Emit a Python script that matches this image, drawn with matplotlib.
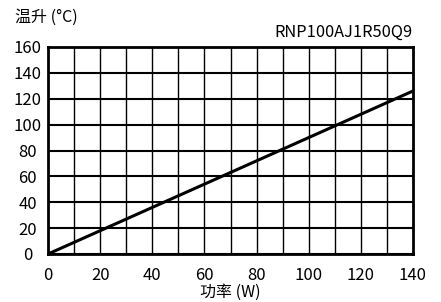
import matplotlib

matplotlib.use("Agg")
import matplotlib.pyplot as plt
import numpy as np

plt.rcParams["font.family"] = ["Noto Sans CJK SC", "DejaVu Sans"]

# data
power_w = [0, 140]
temp_rise_c = [0, 126]

x_ticks = [0, 20, 40, 60, 80, 100, 120, 140]
y_ticks = [0, 20, 40, 60, 80, 100, 120, 140, 160]
part_no = "RNP100AJ1R50Q9"

fig = plt.figure(figsize=(4.41, 3.02), dpi=100)
ax = fig.add_axes([48 / 441, 1 - 254 / 302, (413 - 48) / 441, (254 - 47) / 302])

ax.set_xlim(0, 140)
ax.set_ylim(0, 160)
ax.set_xticks(x_ticks)
ax.set_yticks(y_ticks)
# vertical grid every 10 W, horizontal every 20 °C
for xv in np.arange(10, 140, 10):
    ax.axvline(xv, color="black", lw=1.0, zorder=1)
ax.grid(which="major", axis="y", color="black", lw=1.5, zorder=1)
ax.tick_params(axis="both", length=0, labelsize=12)
ax.tick_params(axis="x", pad=9)
ax.tick_params(axis="y", pad=14.5)
for lbl in ax.get_yticklabels():
    lbl.set_horizontalalignment("center")
for s in ax.spines.values():
    s.set_linewidth(2.0)
    s.set_zorder(3)
ax.set_axisbelow(True)

ax.plot(power_w, temp_rise_c, color="black", lw=2.2, solid_capstyle="butt", zorder=2)

ax.set_xlabel("功率 (W)", fontsize=11.5, labelpad=0)
fig.text(15 / 441, 1 - 17 / 302, "温升 (°C)", fontsize=11.5, va="center", ha="left")
ax.text(1.0, 1.03, part_no, transform=ax.transAxes, ha="right", va="bottom", fontsize=11.8)

fig.savefig("out.png", dpi=100)
